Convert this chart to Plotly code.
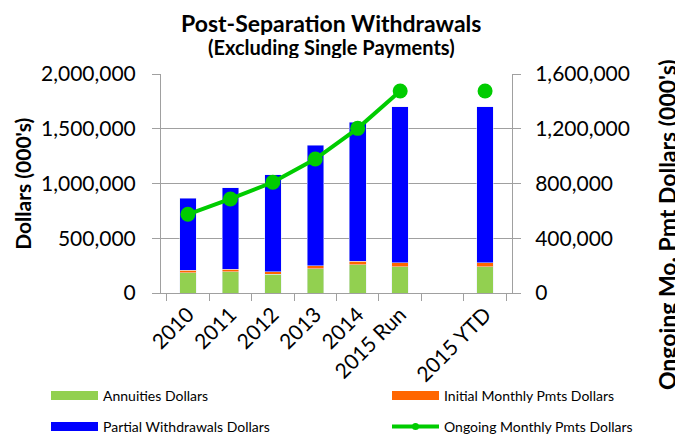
import plotly.graph_objects as go

# categories (blank slot between 2015 Run and 2015 YTD)
years = ['2010', '2011', '2012', '2013', '2014', '2015 Run', ' ', '2015 YTD']

# values in dollars (000's)
annuities = [185000, 195000, 173000, 222000, 258000, 240000, None, 240000]
initial_monthly = [25000, 24000, 19000, 25000, 34000, 37000, None, 37000]
partial_withdrawals = [655000, 740000, 886000, 1102000, 1268000, 1423000, None, 1423000]
ongoing_monthly = [575000, 687000, 809000, 979000, 1203000, 1476000, None, 1476000]

left_ticks = [0, 500000, 1000000, 1500000, 2000000]
right_ticks = [0, 400000, 800000, 1200000, 1600000]

FONT = 'Lato'
W, H = 675, 429  # page body adds an 8px offset
cls = {'ann': '#92D050', 'init': '#FF6600', 'part': '#0000FF', 'ong': '#00CC00'}

fig = go.Figure()
fig.add_trace(go.Bar(x=years, y=annuities, name='Annuities Dollars',
                     marker_color=cls['ann'], showlegend=False))
fig.add_trace(go.Bar(x=years, y=initial_monthly, name='Initial Monthly Pmts Dollars',
                     marker_color=cls['init'], showlegend=False))
fig.add_trace(go.Bar(x=years, y=partial_withdrawals, name='Partial Withdrawals Dollars',
                     marker_color=cls['part'], showlegend=False))
fig.add_trace(go.Scatter(x=years, y=ongoing_monthly, name='Ongoing Monthly Pmts Dollars',
                         mode='lines+markers', yaxis='y2', connectgaps=False,
                         line=dict(color=cls['ong'], width=4),
                         marker=dict(color=cls['ong'], size=15), showlegend=False))

# one legend per entry so each can sit where the original has it
legend_items = [
    ('Annuities Dollars', cls['ann'], 'legend', 9, False, 38, 388),
    ('Initial Monthly Pmts Dollars', cls['init'], 'legend2', 9, False, 379, 388),
    ('Partial Withdrawals Dollars', cls['part'], 'legend3', 9, False, 38, 419),
    ('Ongoing Monthly Pmts Dollars', cls['ong'], 'legend4', 4, True, 379, 419),
]

legends = {}
for name, color, leg, w, mk, px_x, px_y in legend_items:
    fig.add_trace(go.Scatter(x=[None], y=[None], name=name, legend=leg,
                             mode='lines+markers' if mk else 'lines',
                             line=dict(color=color, width=w),
                             marker=dict(color=color, size=7)))
    legends[leg] = dict(orientation='h', xref='container', yref='container',
                        xanchor='left', yanchor='middle',
                        x=px_x / W, y=1 - px_y / H, itemwidth=47,
                        font=dict(family=FONT, size=14, color='#000000'),
                        bgcolor='rgba(0,0,0,0)')

grey = '#A0A0A0'
fig.update_layout(
    width=W, height=H,
    margin=dict(l=153, r=171, t=66, b=144, autoexpand=False),
    paper_bgcolor='white', plot_bgcolor='white',
    barmode='stack', bargap=0.61,
    font=dict(family=FONT, color='#000000'),
    xaxis=dict(type='category', tickangle=-45, tickson='boundaries',
               ticks='outside', ticklen=7, tickcolor=grey, showline=True,
               linecolor=grey, linewidth=1, showgrid=False,
               tickfont=dict(family=FONT, size=21, color='#000000')),
    yaxis=dict(range=[0, 2000000], tickvals=left_ticks, tickformat=',',
               ticks='outside', ticklen=8, tickcolor=grey, showline=True,
               linecolor=grey, gridcolor=grey, gridwidth=1, zeroline=False,
               ticklabelstandoff=12,
               tickfont=dict(family=FONT, size=21, color='#000000')),
    yaxis2=dict(range=[0, 1600000], tickvals=right_ticks, tickformat=',',
                overlaying='y', side='right', showgrid=False, zeroline=False,
                ticks='outside', ticklen=8, tickcolor=grey, showline=True,
                linecolor=grey, ticklabelstandoff=10,
                tickfont=dict(family=FONT, size=21, color='#000000')),
    annotations=[
        dict(text='<b>Post-Separation Withdrawals</b>', xref='paper', yref='paper',
             x=0.485, y=1.3014, showarrow=False, xanchor='center', yanchor='top',
             height=25, font=dict(family=FONT, size=23)),
        dict(text='<b>(Excluding Single Payments)</b>', xref='paper', yref='paper',
             x=0.485, y=1.123, showarrow=False, xanchor='center', yanchor='middle',
             height=22, font=dict(family=FONT, size=20)),
        dict(text="<b>Dollars (000's)</b>", xref='paper', yref='paper',
             x=-0.395, y=0.5, textangle=-90, showarrow=False,
             xanchor='center', yanchor='middle',
             font=dict(family=FONT, size=21)),
        dict(text="<b>Ongoing Mo. Pmt Dollars (000's)</b>", xref='paper', yref='paper',
             x=1.4416, y=0.31, textangle=-90, showarrow=False,
             xanchor='center', yanchor='middle',
             font=dict(family=FONT, size=23)),
    ],
)
fig.update_layout(**legends)

fig.write_html('out.html')
